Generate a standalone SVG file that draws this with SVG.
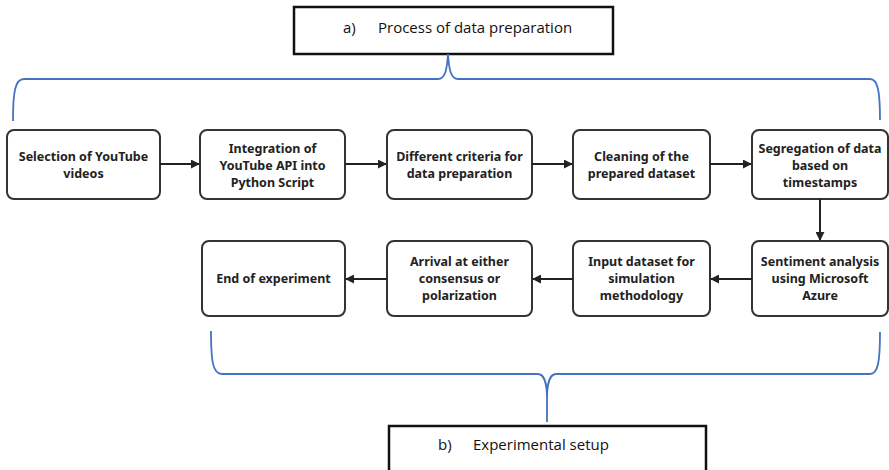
<svg xmlns="http://www.w3.org/2000/svg" width="889" height="470" viewBox="0 0 889 470">
<style>
.node rect{fill:#fff;stroke:#333;stroke-width:2}
.node text{font-family:"Noto Sans","Open Sans",sans-serif;font-weight:bold;font-size:12.5px;fill:#222;text-anchor:middle}
.hdr rect{fill:#fff;stroke:#111;stroke-width:2.5}
.hdr text{font-family:"Open Sans","Noto Sans",sans-serif;font-size:15px;fill:#111}
.conn line{stroke:#222;stroke-width:2}
.brace{fill:none;stroke:#4472C4;stroke-width:1.8}
</style>
<defs>
<marker id="ah" viewBox="0 0 10 10" refX="9" refY="5" markerWidth="4.5" markerHeight="4.5" orient="auto" markerUnits="strokeWidth">
<path d="M0,0 L10,5 L0,10 z" fill="#222"/>
</marker>
</defs>
<rect width="889" height="470" fill="#fff"/>

<g id="header-a" class="hdr">
<rect x="294" y="7" width="319" height="47"/>
<text x="343" y="33">a)</text>
<text x="378" y="33">Process of data preparation</text>
</g>
<g id="header-b" class="hdr">
<rect x="389" y="426" width="317" height="50"/>
<text x="438" y="450">b)</text>
<text x="473" y="450">Experimental setup</text>
</g>

<g id="braces">
<path class="brace" d="M13,121 C13,92 15,79 24,79 L438,79 C445,79 447,70 448,54 C449,70 451,79 458,79 L870,79 C878,79 880,92 880,120"/>
<path class="brace" d="M211,331 C211,362 213,374 222,374 L538,374 C544,374 547,384 547,398 L547,422 M547,398 C547,384 550,374 556,374 L870,374 C878,374 880,362 880,332"/>
</g>

<g id="n1" class="node"><rect x="7" y="130" width="153" height="69" rx="7"/>
<text x="83.5" y="161">Selection of YouTube</text><text x="83.5" y="178">videos</text></g>
<g id="n2" class="node"><rect x="200" y="130" width="145" height="69" rx="7"/>
<text x="272.5" y="153">Integration of</text><text x="272.5" y="170">YouTube API into</text><text x="272.5" y="187">Python Script</text></g>
<g id="n3" class="node"><rect x="387" y="130" width="145" height="69" rx="7"/>
<text x="459.5" y="161">Different criteria for</text><text x="459.5" y="178">data preparation</text></g>
<g id="n4" class="node"><rect x="573" y="130" width="137" height="69" rx="7"/>
<text x="641.5" y="161">Cleaning of the</text><text x="641.5" y="178">prepared dataset</text></g>
<g id="n5" class="node"><rect x="752" y="130" width="136" height="69" rx="7"/>
<text x="820" y="153">Segregation of data</text><text x="820" y="170">based on</text><text x="820" y="187">timestamps</text></g>
<g id="n6" class="node"><rect x="752" y="241" width="136" height="75" rx="7"/>
<text x="820" y="266">Sentiment analysis</text><text x="820" y="283">using Microsoft</text><text x="820" y="300">Azure</text></g>
<g id="n7" class="node"><rect x="573" y="241" width="137" height="75" rx="7"/>
<text x="641.5" y="266">Input dataset for</text><text x="641.5" y="283">simulation</text><text x="641.5" y="300">methodology</text></g>
<g id="n8" class="node"><rect x="387" y="241" width="145" height="75" rx="7"/>
<text x="459.5" y="266">Arrival at either</text><text x="459.5" y="283">consensus or</text><text x="459.5" y="300">polarization</text></g>
<g id="n9" class="node"><rect x="202" y="241" width="143" height="75" rx="7"/>
<text x="273.5" y="283">End of experiment</text></g>

<g id="connectors" class="conn">
<line x1="160" y1="164" x2="199" y2="164" marker-end="url(#ah)"/>
<line x1="345" y1="164" x2="386" y2="164" marker-end="url(#ah)"/>
<line x1="532" y1="164" x2="572" y2="164" marker-end="url(#ah)"/>
<line x1="710" y1="164" x2="751" y2="164" marker-end="url(#ah)"/>
<line x1="820" y1="199" x2="820" y2="240" marker-end="url(#ah)"/>
<line x1="752" y1="279" x2="711" y2="279" marker-end="url(#ah)"/>
<line x1="573" y1="279" x2="533" y2="279" marker-end="url(#ah)"/>
<line x1="387" y1="279" x2="346" y2="279" marker-end="url(#ah)"/>
</g>
</svg>
